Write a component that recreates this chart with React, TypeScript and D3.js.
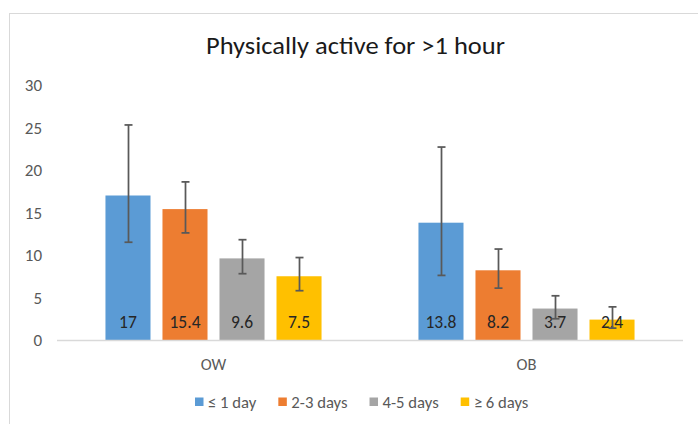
import { useRef, useEffect } from 'react'
import * as d3 from 'd3'

const groups = ['OW', 'OB']
const seriesNames = ['≤ 1 day', '2-3 days', '4-5 days', '≥ 6 days']
const colors = ['#5B9BD5', '#ED7D31', '#A5A5A5', '#FFC000']

// values per group, one entry per series
const owValues = [17, 15.4, 9.6, 7.5]
const obValues = [13.8, 8.2, 3.7, 2.4]
const owUpper = [25.3, 18.6, 11.8, 9.7]
const owLower = [11.5, 12.6, 7.8, 5.8]
const obUpper = [22.7, 10.7, 5.2, 3.9]
const obLower = [7.6, 6.1, 2.5, 1.4]

const yTicks = [0, 5, 10, 15, 20, 25, 30]

const FONT = 'Carlito, Lato, "Open Sans", sans-serif'

const App = () => {
  const svgRef = useRef<SVGSVGElement>(null)

  useEffect(() => {
    if (!svgRef.current) return
    const svg = d3.select(svgRef.current)
    svg.selectAll('*').remove()

    const width = 698
    const height = 424
    const margin = { top: 85, right: 15, bottom: 84, left: 57 }

    // chart frame
    svg.append('rect')
      .attr('x', 9.5).attr('y', 13.5)
      .attr('width', 720).attr('height', 440)
      .attr('fill', '#fff').attr('stroke', '#d9d9d9')

    svg.append('text')
      .attr('x', 206).attr('y', 54)
      .attr('font-family', FONT)
      .attr('font-size', '24.5px')
      .attr('textLength', 299)
      .attr('lengthAdjust', 'spacingAndGlyphs')
      .attr('fill', '#1a1a1a')
      .text('Physically active for >1 hour')

    const y = d3.scaleLinear()
      .domain([0, 30])
      .range([height - margin.bottom, margin.top])

    const x0 = d3.scaleBand()
      .domain(groups)
      .range([margin.left, width - margin.right])
      .padding(0)

    const x1 = d3.scaleBand()
      .domain(seriesNames)
      .range([0, x0.bandwidth()])
      .paddingInner(0.21)
      .paddingOuter(0.85)

    svg.selectAll('.tick-label')
      .data(yTicks)
      .join('text')
      .attr('class', 'tick-label')
      .attr('x', 42)
      .attr('y', d => y(d))
      .attr('dy', '0.36em')
      .attr('text-anchor', 'end')
      .attr('font-family', FONT)
      .attr('font-size', '17px')
      .attr('fill', '#595959')
      .text(d => d)

    const data = groups.map((g, gi) => {
      const vals = gi === 0 ? owValues : obValues
      const up = gi === 0 ? owUpper : obUpper
      const lo = gi === 0 ? owLower : obLower
      return seriesNames.map((s, si) => ({
        group: g, series: s, value: vals[si], upper: up[si], lower: lo[si], color: colors[si],
      }))
    }).flat()

    const bx = (d: { group: string; series: string }) => (x0(d.group) || 0) + (x1(d.series) || 0)

    svg.selectAll('.bar')
      .data(data)
      .join('rect')
      .attr('class', 'bar')
      .attr('x', d => bx(d))
      .attr('y', d => y(d.value))
      .attr('width', x1.bandwidth())
      .attr('height', d => y(0) - y(d.value))
      .attr('fill', d => d.color)

    // baseline
    svg.append('line')
      .attr('x1', margin.left).attr('x2', width - margin.right)
      .attr('y1', y(0) + 0.5).attr('y2', y(0) + 0.5)
      .attr('stroke', '#d9d9d9').attr('stroke-width', 1.5)

    svg.selectAll('.value-label')
      .data(data)
      .join('text')
      .attr('class', 'value-label')
      .attr('x', d => bx(d) + x1.bandwidth() / 2)
      .attr('y', y(0) - 18)
      .attr('dy', '0.36em')
      .attr('text-anchor', 'middle')
      .attr('font-family', FONT)
      .attr('font-size', '17.5px')
      .attr('fill', '#262626')
      .text(d => d.value)

    const err = svg.append('g')
      .attr('stroke', '#595959')
      .attr('stroke-width', 1.75)
    data.forEach(d => {
      const cx = Math.round(bx(d) + x1.bandwidth() / 2) + 0.5
      err.append('line').attr('x1', cx).attr('x2', cx).attr('y1', y(d.upper)).attr('y2', y(d.lower))
      err.append('line').attr('x1', cx - 4).attr('x2', cx + 4).attr('y1', y(d.upper)).attr('y2', y(d.upper))
      err.append('line').attr('x1', cx - 4).attr('x2', cx + 4).attr('y1', y(d.lower)).attr('y2', y(d.lower))
    })

    svg.selectAll('.cat-label')
      .data(groups)
      .join('text')
      .attr('class', 'cat-label')
      .attr('x', d => (x0(d) || 0) + x0.bandwidth() / 2)
      .attr('y', y(0) + 24)
      .attr('dy', '0.36em')
      .attr('text-anchor', 'middle')
      .attr('font-family', FONT)
      .attr('font-size', '16.5px')
      .attr('fill', '#595959')
      .text(d => d)

    // legend
    const legend = svg.append('g')
    let lx = 195
    seriesNames.forEach((s, i) => {
      legend.append('rect')
        .attr('x', lx).attr('y', 397.5)
        .attr('width', 8.5).attr('height', 8.5)
        .attr('fill', colors[i])
      const t = legend.append('text')
        .attr('x', lx + 13).attr('y', 402)
        .attr('dy', '0.36em')
        .attr('font-family', FONT)
        .attr('font-size', '16.7px')
        .attr('fill', '#595959')
        .text(s)
      const w = (t.node() as SVGTextElement).getComputedTextLength()
      lx += 13 + w + 22
    })
  }, [])

  return (
    <div style={{ position: 'absolute', left: 0, top: 0 }}>
      <svg ref={svgRef} width={698} height={424} style={{ display: 'block' }} />
    </div>
  )
}

export default App
